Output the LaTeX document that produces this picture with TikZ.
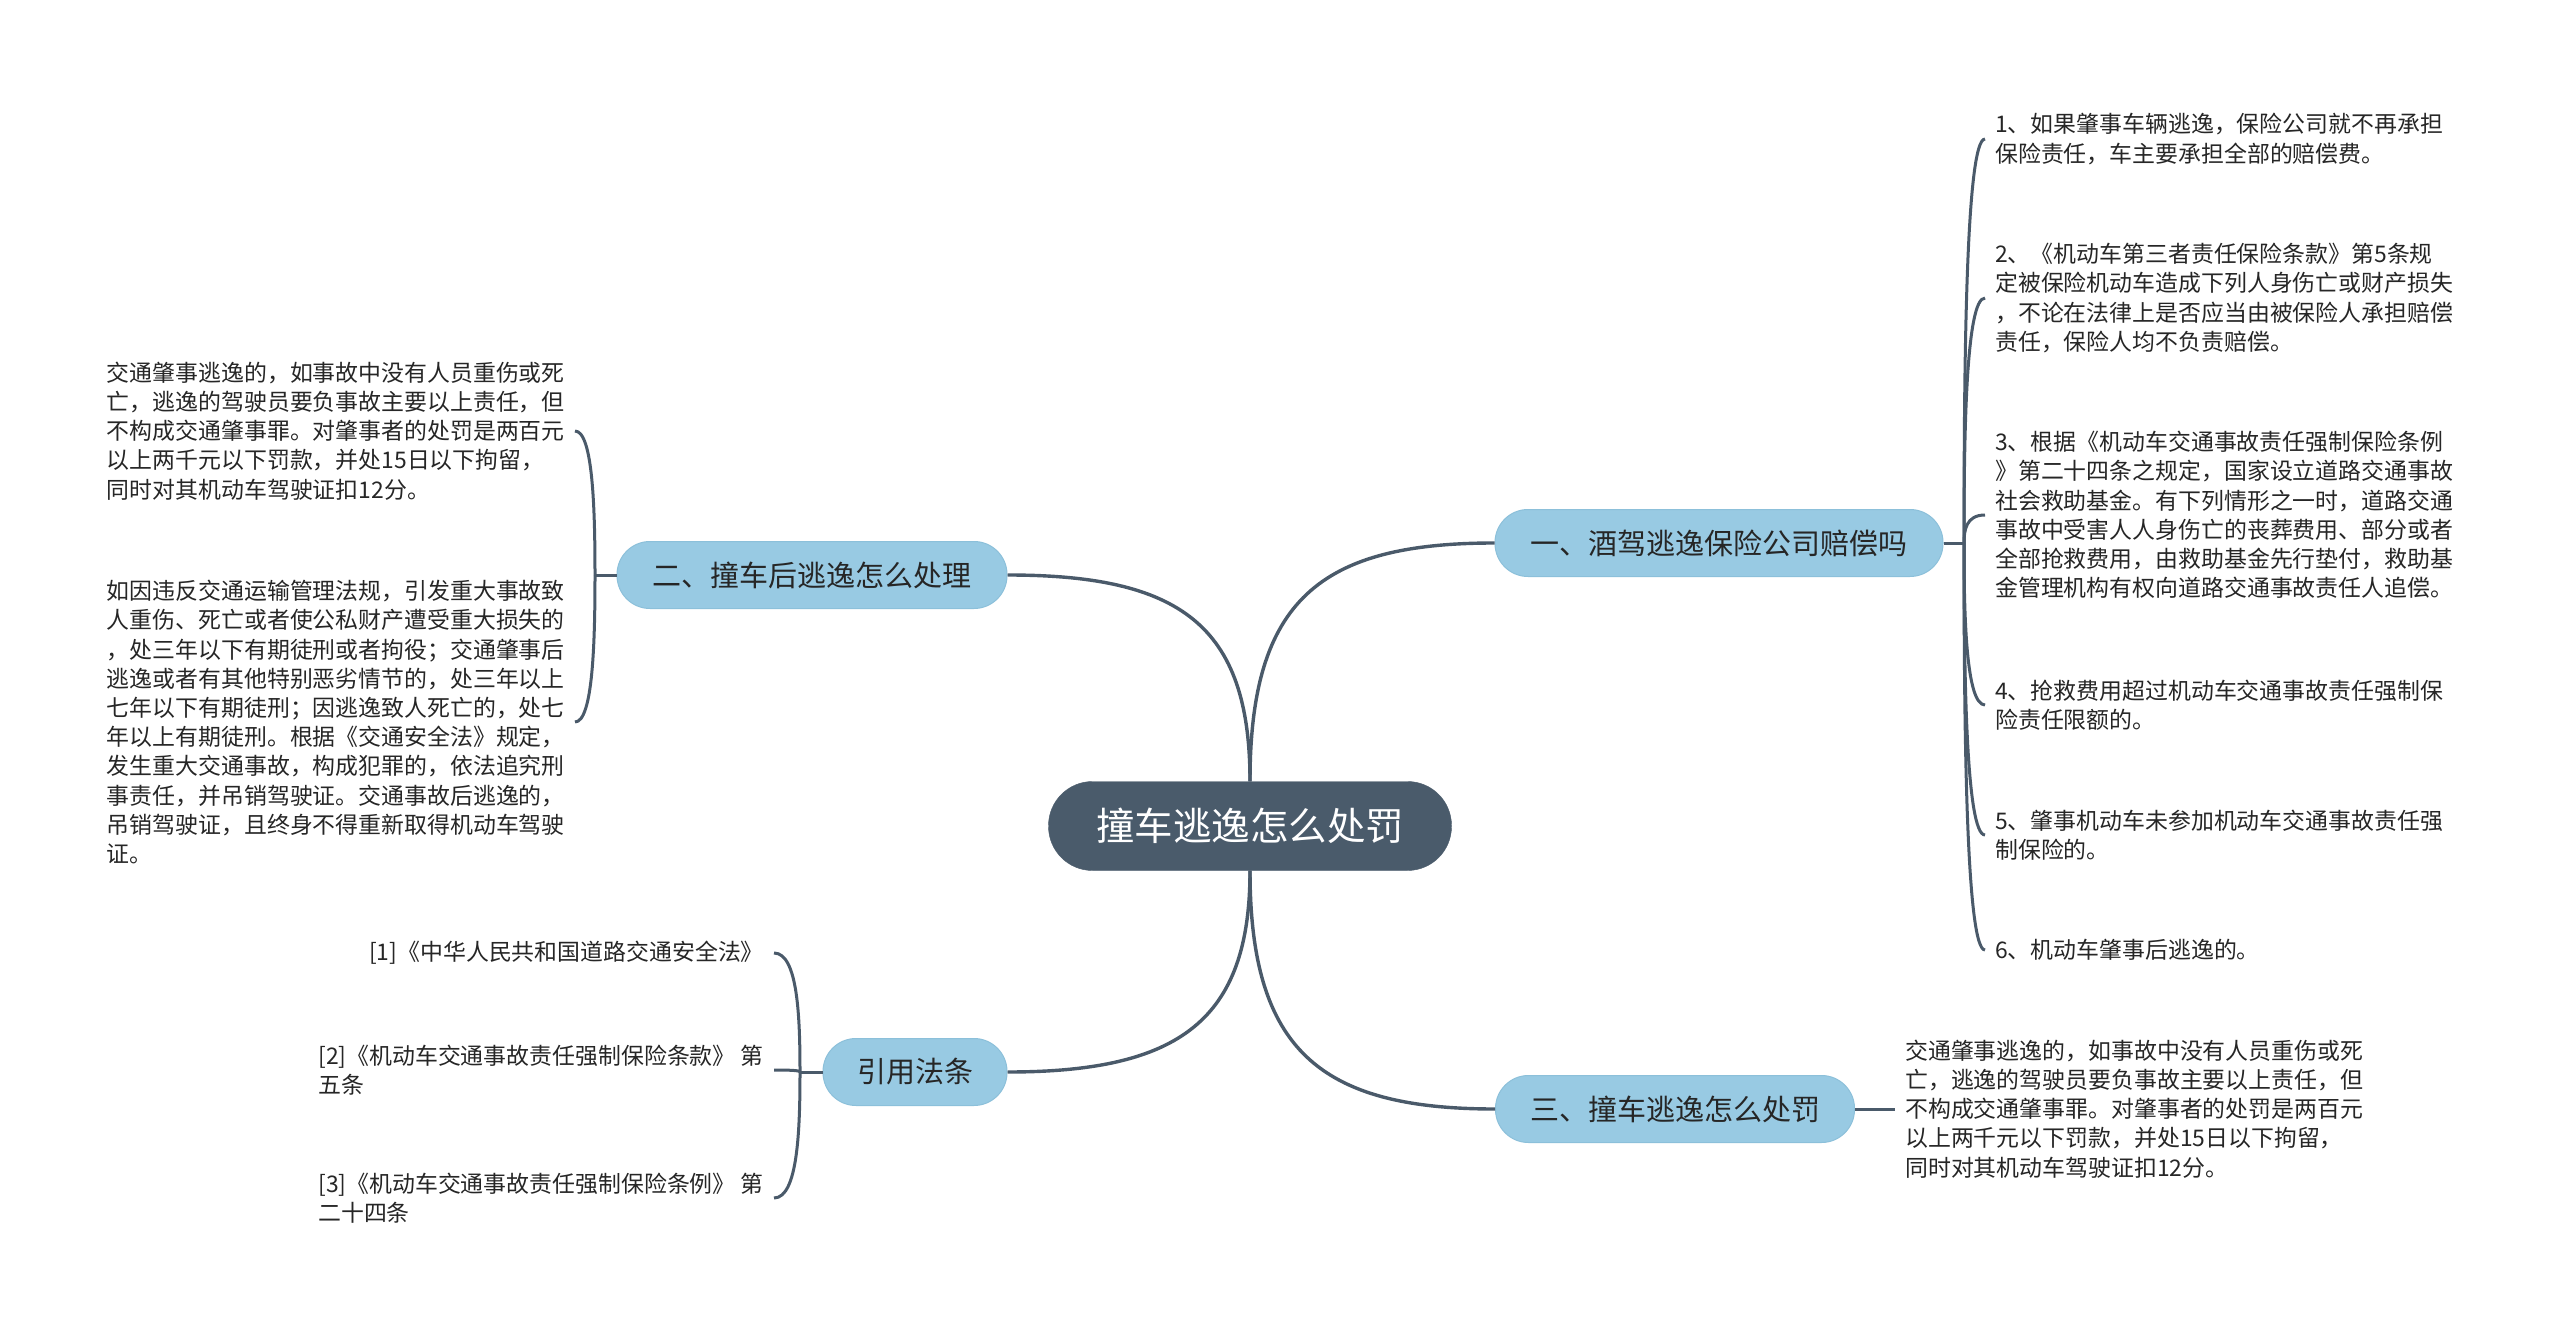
\documentclass[tikz,border=0pt]{standalone}
\usepackage{fontspec}
\setmainfont{Noto Sans CJK SC}
\definecolor{rootfill}{HTML}{4A5B6B}
\definecolor{brfill}{HTML}{98CAE3}
\definecolor{brdraw}{HTML}{8CC0DA}
\definecolor{linec}{HTML}{4A5A6A}
\definecolor{txt}{HTML}{262626}
\begin{document}
\begin{tikzpicture}[x=1pt,y=-1pt,
  rootnode/.style={fill=rootfill, draw=rootfill, rounded corners=44pt, minimum width=403pt, minimum height=89pt, inner sep=0pt, text=white, font=\fontsize{38.5}{44}\selectfont},
  branchnode/.style={fill=brfill, draw=brdraw, line width=1pt, rounded corners=33pt, minimum height=67pt, inner sep=0pt, text=txt, font=\fontsize{29}{34}\selectfont},
  leaf/.style={inner xsep=10pt, inner ysep=0pt, align=left, text=txt, font=\fontsize{22.9}{29.2}\selectfont},
  mainlink/.style={draw=linec, line width=3.4pt},
  sublink/.style={draw=linec, line width=3pt},
]
\useasboundingbox (0,0) rectangle (2560,1337);
\fill[white] (0,0) rectangle (2560,1337);

% nodes
\node[rootnode] (root) at (1250,826) {撞车逃逸怎么处罚};
\node[branchnode, minimum width=448pt] (b1) at (1719,543) {一、酒驾逃逸保险公司赔偿吗};
\node[branchnode, minimum width=390pt] (b2) at (812,575) {二、撞车后逃逸怎么处理};
\node[branchnode, minimum width=359pt] (b3) at (1675,1109) {三、撞车逃逸怎么处罚};
\node[branchnode, minimum width=184pt] (b4) at (915,1072) {引用法条};

% right children of b1
\node[leaf, anchor=west] (r1) at (1985,139) {1、如果肇事车辆逃逸，保险公司就不再承担\\保险责任，车主要承担全部的赔偿费。};
\node[leaf, anchor=west] (r2) at (1985,298) {2、《机动车第三者责任保险条款》第5条规\\定被保险机动车造成下列人身伤亡或财产损失\\，不论在法律上是否应当由被保险人承担赔偿\\责任，保险人均不负责赔偿。};
\node[leaf, anchor=west] (r3) at (1985,515) {3、根据《机动车交通事故责任强制保险条例\\》第二十四条之规定，国家设立道路交通事故\\社会救助基金。有下列情形之一时，道路交通\\事故中受害人人身伤亡的丧葬费用、部分或者\\全部抢救费用，由救助基金先行垫付，救助基\\金管理机构有权向道路交通事故责任人追偿。};
\node[leaf, anchor=west] (r4) at (1985,705) {4、抢救费用超过机动车交通事故责任强制保\\险责任限额的。};
\node[leaf, anchor=west] (r5) at (1985,835) {5、肇事机动车未参加机动车交通事故责任强\\制保险的。};
\node[leaf, anchor=west] (r6) at (1985,950) {6、机动车肇事后逃逸的。};

% left children of b2
\node[leaf, anchor=east] (l1) at (575,431) {交通肇事逃逸的，如事故中没有人员重伤或死\\亡，逃逸的驾驶员要负事故主要以上责任，但\\不构成交通肇事罪。对肇事者的处罚是两百元\\以上两千元以下罚款，并处15日以下拘留，\\同时对其机动车驾驶证扣12分。};
\node[leaf, anchor=east] (l2) at (575,722) {如因违反交通运输管理法规，引发重大事故致\\人重伤、死亡或者使公私财产遭受重大损失的\\，处三年以下有期徒刑或者拘役；交通肇事后\\逃逸或者有其他特别恶劣情节的，处三年以上\\七年以下有期徒刑；因逃逸致人死亡的，处七\\年以上有期徒刑。根据《交通安全法》规定，\\发生重大交通事故，构成犯罪的，依法追究刑\\事责任，并吊销驾驶证。交通事故后逃逸的，\\吊销驾驶证，且终身不得重新取得机动车驾驶\\证。};

% child of b3
\node[leaf, anchor=west] (t1) at (1895,1109) {交通肇事逃逸的，如事故中没有人员重伤或死\\亡，逃逸的驾驶员要负事故主要以上责任，但\\不构成交通肇事罪。对肇事者的处罚是两百元\\以上两千元以下罚款，并处15日以下拘留，\\同时对其机动车驾驶证扣12分。};

% children of b4
\node[leaf, anchor=east] (f1) at (774,953) {[1]《中华人民共和国道路交通安全法》};
\node[leaf, anchor=east] (f2) at (774,1070) {[2]《机动车交通事故责任强制保险条款》 第\\五条};
\node[leaf, anchor=east] (f3) at (774,1198) {[3]《机动车交通事故责任强制保险条例》 第\\二十四条};

% junction coordinates
\coordinate (j1) at (1964,543);
\coordinate (j2) at (595,575);
\coordinate (j4) at (800,1072);

% main links
\draw[mainlink] (root.north) .. controls (1250,600) and (1320,543) .. (b1.west);
\draw[mainlink] (root.north) .. controls (1250,625) and (1180,575) .. (b2.east);
\draw[mainlink] (root.south) .. controls (1250,1050) and (1320,1109) .. (b3.west);
\draw[mainlink] (root.south) .. controls (1250,1020) and (1180,1072) .. (b4.east);

% b1 bracket
\draw[sublink] (b1.east) -- (j1);
\foreach \n/\y in {r1/139, r2/298, r3/515, r4/705, r5/835, r6/950}{
  \draw[sublink] (j1) .. controls (1964,{543+0.45*(\y-543)}) and (1966,\y) .. (\n.west);
}

% b2 bracket
\draw[sublink] (b2.west) -- (j2);
\foreach \n/\y in {l1/431, l2/722}{
  \draw[sublink] (j2) .. controls (595,{575+0.45*(\y-575)}) and (593,\y) .. (\n.east);
}

% b3 link
\draw[sublink] (b3.east) -- (t1.west);

% b4 bracket
\draw[sublink] (b4.west) -- (j4);
\foreach \n/\y in {f1/953, f2/1070, f3/1198}{
  \draw[sublink] (j4) .. controls (800,{1072+0.45*(\y-1072)}) and (798,\y) .. (\n.east);
}
\end{tikzpicture}
\end{document}
